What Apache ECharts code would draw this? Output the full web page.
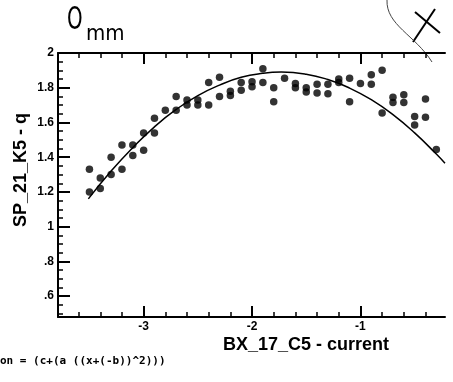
<!DOCTYPE html>
<html>
<head>
<meta charset="utf-8">
<script src="https://cdn.jsdelivr.net/npm/echarts@6/dist/echarts.min.js"></script>
<style>html,body{margin:0;padding:0;background:#fff}#c{width:453px;height:382px}</style>
</head>
<body>
<div id="c"></div>
<script>
// measured data points (BX_17_C5 - current vs SP_21_K5 - q)
const dotX = [-3.5,-3.5,-3.4,-3.4,-3.3,-3.3,-3.2,-3.2,-3.1,-3.1,-3.0,-3.0,-2.9,-2.9,-2.8,-2.7,-2.7,-2.6,-2.6,-2.5,-2.5,-2.4,-2.4,-2.3,-2.3,-2.2,-2.2,-2.1,-2.1,-2.0,-2.0,-1.9,-1.9,-1.8,-1.8,-1.7,-1.6,-1.6,-1.5,-1.5,-1.4,-1.4,-1.3,-1.3,-1.2,-1.2,-1.1,-1.1,-1.0,-0.9,-0.9,-0.8,-0.8,-0.7,-0.7,-0.6,-0.6,-0.5,-0.5,-0.4,-0.4,-0.3];
const dotY = [1.33,1.20,1.28,1.22,1.40,1.30,1.47,1.33,1.47,1.41,1.54,1.44,1.625,1.54,1.67,1.75,1.67,1.73,1.70,1.73,1.70,1.83,1.70,1.86,1.75,1.78,1.755,1.83,1.785,1.835,1.805,1.91,1.83,1.80,1.72,1.855,1.825,1.80,1.80,1.775,1.82,1.77,1.82,1.765,1.85,1.83,1.855,1.72,1.825,1.875,1.82,1.90,1.655,1.745,1.715,1.76,1.715,1.635,1.585,1.735,1.63,1.445];
// fitted curve
const curveX = [-3.51,-3.3,-3.1,-2.9,-2.7,-2.5,-2.3,-2.1,-1.9,-1.73,-1.5,-1.3,-1.1,-0.9,-0.7,-0.5,-0.3,-0.22];
const curveY = [1.16,1.32,1.455,1.575,1.675,1.755,1.815,1.86,1.883,1.89,1.878,1.847,1.798,1.731,1.645,1.54,1.418,1.365];
// ticks
const xMajor = [-3,-2,-1];
const xMinor = [-3.6,-3.4,-3.2,-2.8,-2.6,-2.4,-2.2,-1.8,-1.6,-1.4,-1.2,-0.8,-0.6,-0.4];
const yMajor = [0.6,0.8,1,1.2,1.4,1.6,1.8,2];
const yMinor = [0.5,0.55,0.65,0.7,0.75,0.85,0.9,0.95,1.05,1.1,1.15,1.25,1.3,1.35,1.45,1.5,1.55,1.65,1.7,1.75,1.85,1.9,1.95];
const xMin = -3.79, xMax = -0.22, yMin = 0.48, yMax = 2;

const chart = echarts.init(document.getElementById('c'), null, {renderer:'canvas'});
const lab = {fontFamily:'Liberation Sans', fontWeight:'bold', fontSize:12, color:'#000'};
function xAx(pos, vals, len, showLine, showLabel){
  return {type:'value', position:pos, min:xMin, max:xMax, gridIndex:0,
    axisLine:{show:showLine, onZero:false, lineStyle:{color:'#000', width:2}},
    axisTick:{show:true, inside:true, length:len, customValues:vals, lineStyle:{color:'#000', width:len>6?2:1.5}},
    axisLabel:{show:showLabel, customValues:vals, margin:4, formatter:v=>String(Math.round(v)), ...lab},
    splitLine:{show:false}};
}
function yAx(vals, len, showLine, showLabel){
  return {type:'value', position:'left', min:yMin, max:yMax, gridIndex:0,
    axisLine:{show:showLine, onZero:false, lineStyle:{color:'#000', width:2}},
    axisTick:{show:true, inside:true, length:len, customValues:vals, lineStyle:{color:'#000', width:len>6?2:1.5}},
    axisLabel:{show:showLabel, customValues:vals, margin:4, formatter:v=>{const s=String(Math.round(v*10)/10); return v<1? s.replace(/^0/,''):s;}, ...lab},
    splitLine:{show:false}};
}
chart.setOption({
  animation:false,
  backgroundColor:'#fff',
  grid:{left:58, right:8, top:53, bottom:65},
  xAxis:[xAx('bottom', xMajor, 11, true, true), xAx('bottom', xMinor, 5, false, false),
         xAx('top', xMajor, 11, true, false), xAx('top', xMinor, 5, false, false)],
  yAxis:[yAx(yMajor, 12, true, true), yAx(yMinor, 5, false, false)],
  series:[
    {type:'scatter', xAxisIndex:0, yAxisIndex:0, symbol:'circle', symbolSize:7.5,
     itemStyle:{color:'#000'}, data:dotX.map((x,i)=>[x, dotY[i]])},
    {type:'line', xAxisIndex:0, yAxisIndex:0, smooth:true, showSymbol:false, symbol:'none',
     lineStyle:{color:'#000', width:1.5}, data:curveX.map((x,i)=>[x, curveY[i]])}
  ],
  graphic:[
    {type:'text', x:67, y:5, scaleX:0.62, style:{text:'O', font:'32px "DejaVu Sans"', fill:'#000'}},
    {type:'text', x:86, y:23, scaleX:0.9, style:{text:'mm', font:'22px "DejaVu Sans"', fill:'#000'}},
    {type:'line', shape:{x1:415,y1:12,x2:440,y2:33}, style:{stroke:'#000', lineWidth:2}},
    {type:'line', shape:{x1:435,y1:9,x2:413,y2:42}, style:{stroke:'#000', lineWidth:2}},
    {type:'bezierCurve', shape:{x1:387,y1:0,cpx1:386,cpy1:25,cpx2:415,cpy2:35,x2:432,y2:62}, style:{stroke:'#444', lineWidth:1, fill:null}},
    {type:'text', x:306, y:345, style:{text:'BX_17_C5 - current', font:'bold 18px "Liberation Sans"', fill:'#000', align:'center', verticalAlign:'middle'}},
    {type:'text', x:21, y:170, rotation:Math.PI/2, style:{text:'SP_21_K5 - q', font:'bold 18px "Liberation Sans"', fill:'#000', align:'center', verticalAlign:'middle'}},
    {type:'text', left:0, top:356, style:{text:'on = (c+(a ((x+(-b))^2)))', font:'bold 11px "DejaVu Sans Mono"', fill:'#000'}}
  ]
});
</script>
</body>
</html>
